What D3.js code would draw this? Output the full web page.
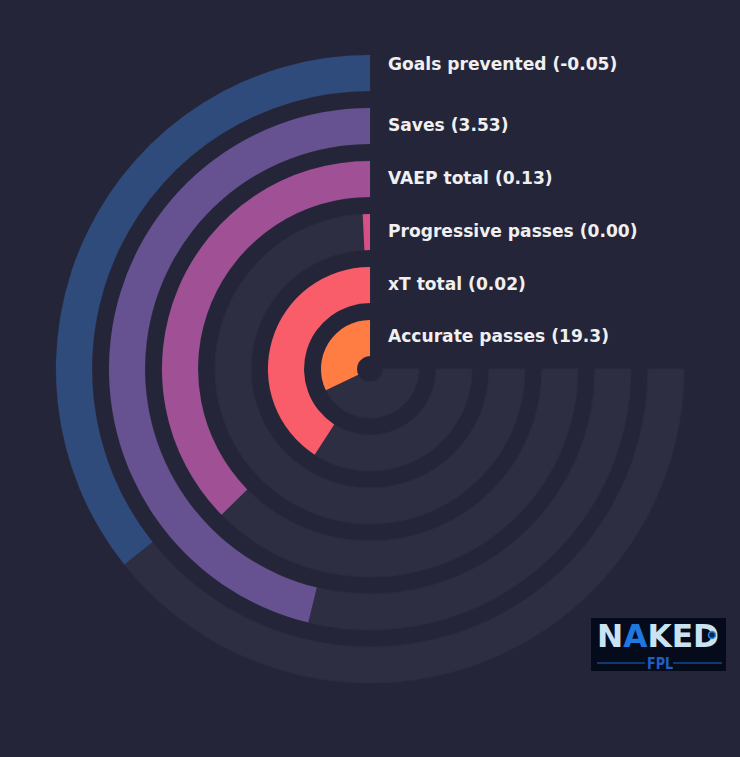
<!DOCTYPE html>
<html>
<head>
<meta charset="utf-8">
<script src="https://cdn.jsdelivr.net/npm/d3@7"></script>
<style>
  html, body { margin: 0; padding: 0; background: #252539; }
  svg { display: block; }
</style>
</head>
<body>
<svg id="chart" width="740" height="757"></svg>
<script>
// ---- data ----
const categories = ["Goals prevented", "Saves", "VAEP total", "Progressive passes", "xT total", "Accurate passes"];
const displayValues = ["-0.05", "3.53", "0.13", "0.00", "0.02", "19.3"];
const percentiles = [47.6, 61.6, 49.8, 1.0, 54.5, 42.9];
const colors = ["#2f4b7c", "#665191", "#a05195", "#d45087", "#f95d6a", "#ff7c43"];

// ---- layout ----
const W = 740, H = 757;
const cx = 370, cy = 369;
const bg = "#252539", trackColor = "#2e2e42";

const svg = d3.select("#chart");
svg.append("rect").attr("width", W).attr("height", H).attr("fill", bg);

const g = svg.append("g").attr("transform", `translate(${cx},${cy})`);

const radius = d3.scaleBand().domain(categories).range([314, 13]).paddingInner(0.32).paddingOuter(0);
const angle = d3.scaleLinear().domain([0, 100]).range([0, 1.5 * Math.PI]);

const arc = d3.arc()
  .innerRadius(d => radius(d.cat))
  .outerRadius(d => radius(d.cat) + radius.bandwidth())
  .startAngle(0)
  .endAngle(d => -d.a);

const rows = categories.map((c, i) => ({ cat: c, i, val: displayValues[i], p: percentiles[i], color: colors[i] }));

// tracks
g.selectAll("path.track").data(rows).join("path")
  .attr("class", "track")
  .attr("d", d => arc({ cat: d.cat, a: angle(100) }))
  .attr("fill", trackColor)
  .attr("stroke", "#2c2c40").attr("stroke-width", 1);

// bars
g.selectAll("path.bar").data(rows).join("path")
  .attr("class", "bar")
  .attr("d", d => arc({ cat: d.cat, a: angle(d.p) }))
  .attr("fill", d => d.color);

// labels
g.selectAll("text.lbl").data(rows).join("text")
  .attr("class", "lbl")
  .attr("x", 18)
  .attr("y", d => -(radius(d.cat) + radius.bandwidth() / 2) + 4.5 + (d.i === 0 ? -8 : 0))
  .attr("fill", "#f0f0f0")
  .attr("font-family", "DejaVu Sans, sans-serif")
  .attr("font-weight", "bold")
  .attr("font-size", 17.1)
  .text(d => `${d.cat} (${d.val})`);

// ---- logo ----
const logo = svg.append("g").attr("transform", "translate(591,618)");
logo.append("rect").attr("width", 135).attr("height", 53).attr("fill", "#060b1c");
const ltxt = logo.append("text")
  .attr("x", 6).attr("y", 29)
  .attr("font-family", "DejaVu Sans, sans-serif")
  .attr("font-weight", "bold")
  .attr("font-size", 32)
  .attr("textLength", 122)
  .attr("lengthAdjust", "spacingAndGlyphs");
ltxt.append("tspan").attr("fill", "#c9e3f3").text("N");
ltxt.append("tspan").attr("fill", "#1f78e0").text("A");
ltxt.append("tspan").attr("fill", "#c9e3f3").text("KED");
logo.append("circle").attr("cx", 121).attr("cy", 17).attr("r", 3.5).attr("fill", "#0b2a55").attr("stroke", "#2a8be8").attr("stroke-width", 1.5);
logo.append("line").attr("x1", 6).attr("x2", 54).attr("y1", 45).attr("y2", 45).attr("stroke", "#1f66c9").attr("stroke-width", 1);
logo.append("line").attr("x1", 82).attr("x2", 131).attr("y1", 45).attr("y2", 45).attr("stroke", "#1f66c9").attr("stroke-width", 1);
logo.append("text")
  .attr("x", 56).attr("y", 51)
  .attr("font-family", "DejaVu Sans, sans-serif")
  .attr("font-weight", "bold")
  .attr("font-size", 16)
  .attr("textLength", 26)
  .attr("lengthAdjust", "spacingAndGlyphs")
  .attr("fill", "#1f5fc4")
  .text("FPL");
</script>
</body>
</html>
